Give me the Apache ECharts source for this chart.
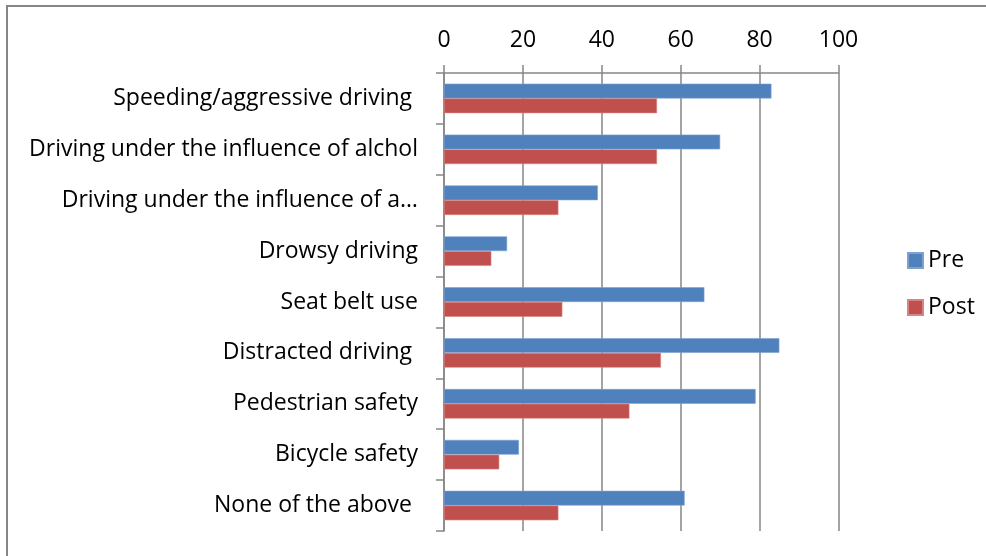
<!DOCTYPE html>
<html>
<head>
<meta charset="utf-8">
<script src="https://cdn.jsdelivr.net/npm/echarts@6/dist/echarts.min.js"></script>
<style>
  html, body { margin: 0; padding: 0; background: #fff; }
  #chart { width: 986px; height: 556px; }
</style>
</head>
<body>
<div id="chart"></div>
<script>
(function () {
  var myChart = echarts.init(document.getElementById('chart'));

  var categories = [
    'Speeding/aggressive driving ',
    'Driving under the influence of alchol',
    'Driving under the influence of a…',
    'Drowsy driving',
    'Seat belt use',
    'Distracted driving ',
    'Pedestrian safety',
    'Bicycle safety',
    'None of the above '
  ];
  var preValues = [83, 70, 39, 16, 66, 85, 79, 19, 61];
  var postValues = [54, 54, 29, 12, 30, 55, 47, 14, 29];
  var seriesNames = ['Pre', 'Post'];
  var colors = ['#4F81BD', '#C0504D'];

  var fontFam = 'Open Sans';
  var gray = '#868686';
  var fs = 23;

  var option = {
    animation: false,
    color: colors,
    textStyle: { fontFamily: fontFam },
    graphic: [{
      type: 'rect',
      shape: { x: 7, y: 6, width: 1000, height: 600 },
      style: { fill: 'none', stroke: gray, lineWidth: 2 },
      silent: true
    }],
    legend: {
      orient: 'vertical',
      left: 902,
      top: 244,
      itemWidth: 15,
      itemHeight: 15,
      itemGap: 24,
      icon: 'rect',
      textStyle: { fontSize: fs, color: '#000', fontFamily: fontFam },
      data: seriesNames
    },
    grid: {
      left: 444,
      right: 147.5,
      top: 73,
      bottom: 25,
      containLabel: false
    },
    xAxis: {
      type: 'value',
      position: 'top',
      min: 0,
      max: 100,
      interval: 20,
      axisLine: { show: true, lineStyle: { color: gray, width: 1.5 } },
      axisTick: { show: true, length: 8, lineStyle: { color: gray, width: 1.5 } },
      axisLabel: { fontSize: fs, color: '#000', margin: 21 },
      splitLine: { show: true, lineStyle: { color: gray, width: 1.5 } }
    },
    yAxis: {
      type: 'category',
      inverse: true,
      data: categories,
      axisLine: { show: true, lineStyle: { color: gray, width: 1.5 } },
      axisTick: { show: true, length: 8, alignWithLabel: false, lineStyle: { color: gray, width: 1.5 } },
      axisLabel: { fontSize: fs, color: '#000', margin: 26 },
      splitLine: { show: false }
    },
    series: [{
      name: seriesNames[0],
      type: 'bar',
      data: preValues,
      barGap: '0%',
      barCategoryGap: '42%',
      itemStyle: { color: colors[0], borderColor: '#7EA1D0', borderWidth: 0.6 }
    }, {
      name: seriesNames[1],
      type: 'bar',
      data: postValues,
      barGap: '0%',
      barCategoryGap: '42%',
      itemStyle: { color: colors[1], borderColor: '#D98482', borderWidth: 0.6 }
    }]
  };

  myChart.setOption(option);
  window.addEventListener('resize', function () {
    myChart.resize();
  });
})();
</script>
</body>
</html>
